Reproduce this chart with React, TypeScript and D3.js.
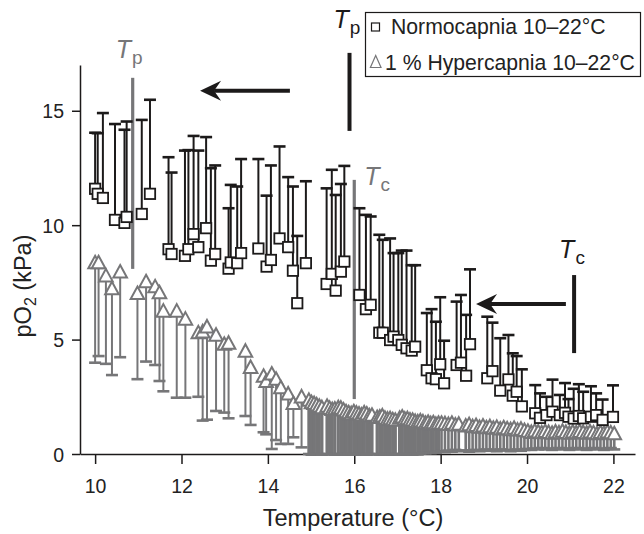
import React, { useRef, useEffect } from 'react';
import * as d3 from 'd3';

// Normocapnia: [temperature °C, mean pO2 kPa, mean + s.d.]
const normocapnia = [
  [10.00, 11.59, 14.04], [10.06, 11.37, 14.02], [10.18, 11.19, 14.90], [10.46, 10.23, 14.42],
  [10.68, 10.10, 14.17], [10.73, 10.36, 14.53], [11.08, 10.49, 14.60], [11.27, 11.37, 15.48],
  [11.70, 8.95, 12.97], [11.77, 8.74, 12.30], [12.08, 8.66, 13.26], [12.16, 8.95, 13.28],
  [12.28, 9.61, 13.90], [12.39, 9.04, 13.26], [12.57, 9.87, 13.85], [12.68, 8.45, 12.49],
  [12.78, 8.74, 12.61], [13.09, 8.10, 10.74], [13.14, 8.37, 11.76], [13.29, 8.34, 11.69],
  [13.38, 8.78, 12.89], [13.78, 8.98, 12.89], [13.97, 8.19, 11.29], [14.07, 8.48, 12.61],
  [14.27, 9.42, 13.44], [14.47, 9.04, 12.10], [14.58, 8.01, 11.69], [14.68, 6.59, 9.53],
  [14.88, 8.34, 11.92], [15.36, 7.43, 11.61], [15.48, 7.87, 12.42], [15.57, 7.14, 11.32],
  [15.69, 7.97, 11.80], [15.77, 8.41, 12.59], [16.12, 6.95, 10.74], [16.27, 6.33, 10.45],
  [16.38, 6.52, 10.38], [16.58, 5.30, 9.58], [16.66, 5.30, 9.36], [16.83, 4.98, 9.42],
  [16.91, 5.13, 8.78], [17.02, 4.98, 8.78], [17.10, 4.77, 8.89], [17.21, 4.62, 8.89],
  [17.33, 4.52, 8.25], [17.41, 4.69, 8.25], [17.68, 3.66, 6.16], [17.79, 3.31, 6.33],
  [17.89, 3.27, 5.78], [17.99, 3.92, 6.85], [18.08, 3.09, 4.95], [18.37, 3.89, 6.66],
  [18.47, 3.99, 6.95], [18.59, 3.42, 6.08], [18.68, 4.80, 8.07], [19.08, 3.31, 6.00],
  [19.20, 3.62, 5.74], [19.38, 2.77, 5.06], [19.57, 3.26, 5.20], [19.67, 2.55, 4.40],
  [19.76, 2.72, 4.28], [19.88, 2.08, 3.70], [20.19, 1.78, 3.01], [20.30, 1.58, 2.65],
  [20.45, 1.70, 2.50], [20.59, 1.85, 3.25], [20.76, 1.70, 2.58], [20.88, 1.80, 3.10],
  [20.96, 1.63, 2.40], [21.08, 1.55, 2.85], [21.20, 1.66, 3.05], [21.30, 1.56, 2.72],
  [21.48, 1.63, 2.96], [21.60, 1.70, 2.65], [21.75, 1.49, 2.38], [21.99, 1.62, 3.00],
];

// 1 % hypercapnia: [temperature °C, mean pO2 kPa, mean - s.d.]
const hypercapniaCool = [
  [10.00, 8.31, 3.99], [10.08, 8.31, 4.28], [10.25, 7.74, 3.94], [10.39, 7.18, 3.45],
  [10.58, 7.91, 4.23], [10.98, 6.97, 3.27], [11.18, 7.48, 4.04], [11.39, 7.26, 3.89],
  [11.49, 7.00, 3.19], [11.58, 6.20, 2.74], [11.89, 6.20, 2.46], [12.09, 5.85, 2.46],
  [12.39, 5.25, 2.50], [12.49, 5.29, 1.46], [12.59, 5.51, 1.50], [12.80, 5.15, 1.88],
  [12.99, 4.75, 1.81], [13.09, 4.80, 1.56], [13.48, 4.45, 1.66], [13.60, 3.74, 1.27],
  [13.90, 3.35, 0.95], [13.96, 3.12, 0.86], [14.09, 3.45, 0.22], [14.19, 3.22, 0.61],
  [14.30, 2.85, 0.44], [14.47, 2.58, 0.44], [14.59, 2.16, 0.73], [14.78, 2.45, 0.29],
];

const hypercapniaMid = [
  [14.95, 2.30, 0.00], [15.01, 2.20, -0.03], [15.07, 2.16, 0.00], [15.13, 2.10, -0.02],
  [15.19, 2.04, 0.00], [15.25, 1.98, -0.03], [15.37, 2.04, 0.00], [15.43, 1.95, -0.02],
  [15.49, 1.90, 0.00], [15.55, 1.92, -0.03], [15.63, 1.98, 0.00], [15.69, 1.96, -0.02],
  [15.75, 1.88, 0.00], [15.81, 1.80, -0.03], [15.87, 1.76, 0.00], [15.93, 1.72, -0.02],
  [15.99, 1.80, 0.00], [16.05, 1.74, -0.03], [16.11, 1.70, 0.00], [16.17, 1.66, -0.02],
  [16.23, 1.75, 0.00], [16.29, 1.70, -0.03], [16.35, 1.62, 0.00], [16.41, 1.65, -0.02],
  [16.53, 1.55, 0.00], [16.59, 1.57, -0.03], [16.65, 1.62, 0.00], [16.71, 1.52, -0.02],
  [16.77, 1.48, 0.00], [16.83, 1.50, -0.03], [16.89, 1.45, 0.00], [16.95, 1.43, -0.02],
  [17.05, 1.52, 0.00], [17.11, 1.57, -0.03], [17.17, 1.48, 0.00], [17.23, 1.50, -0.02],
  [17.29, 1.44, 0.00], [17.35, 1.43, -0.03], [17.41, 1.38, 0.00], [17.47, 1.36, -0.02],
  [17.53, 1.40, 0.02], [17.59, 1.36, 0.05], [17.65, 1.30, 0.03], [17.71, 1.34, 0.06],
  [17.77, 1.28, 0.04], [17.83, 1.32, 0.08], [17.89, 1.25, 0.05], [17.95, 1.30, 0.10],
];

const hypercapniaWarm = [
  [18.02, 1.30, 0.12], [18.10, 1.28, 0.08], [18.18, 1.25, 0.15], [18.26, 1.30, 0.10],
  [18.34, 1.22, 0.18], [18.42, 1.26, 0.12], [18.58, 1.18, 0.16], [18.66, 1.24, 0.10],
  [18.74, 1.15, 0.14], [18.82, 1.20, 0.18], [18.90, 1.12, 0.12], [18.98, 1.18, 0.16],
  [19.06, 1.10, 0.20], [19.14, 1.15, 0.14], [19.22, 1.08, 0.18], [19.30, 1.12, 0.12],
  [19.38, 1.05, 0.20], [19.46, 1.10, 0.15], [19.54, 1.06, 0.18], [19.62, 1.02, 0.12],
  [19.70, 1.08, 0.16], [19.78, 1.00, 0.20], [19.86, 1.04, 0.14], [19.94, 0.98, 0.18],
  [20.02, 0.95, 0.22], [20.10, 0.90, 0.18], [20.18, 0.96, 0.24], [20.26, 0.92, 0.20],
  [20.34, 0.88, 0.26], [20.42, 0.94, 0.20], [20.50, 0.90, 0.24], [20.58, 0.86, 0.18],
  [20.66, 0.92, 0.22], [20.74, 0.88, 0.26], [20.82, 0.95, 0.20], [20.90, 0.90, 0.24],
  [20.98, 0.86, 0.18], [21.06, 0.92, 0.22], [21.14, 0.88, 0.26], [21.22, 0.94, 0.20],
  [21.30, 0.90, 0.24], [21.38, 0.86, 0.18], [21.46, 0.92, 0.22], [21.54, 0.88, 0.26],
  [21.62, 0.84, 0.20], [21.70, 0.90, 0.24], [21.78, 0.86, 0.18], [21.86, 0.92, 0.22],
  [21.94, 0.88, 0.26], [22.02, 0.84, 0.20],
];

const xTicks = [10, 12, 14, 16, 18, 20, 22];
const yTicks = [0, 5, 10, 15];

// threshold temperatures (°C) and their marker extents (kPa)
const hyperTp = 10.87, hyperTpSpan = [16.44, 8.09];
const hyperTc = 16.0, hyperTcSpan = [11.98, 2.4];
const normTp = 15.89, normTpSpan = [17.53, 14.12];
const normTc = 21.09, normTcSpan = [7.82, 4.41];
const arrowTp = { from: 14.51, to: 12.43, at: 15.87 };
const arrowTc = { from: 20.9, to: 18.82, at: 6.56 };

const legendItems = ['Normocapnia 10–22°C', '1 % Hypercapnia 10–22°C'];

const FONT = 'Liberation Sans, Arial, Helvetica, sans-serif';
const BLACK = '#1c1a1a';
const GRAY = '#767678';

const App = () => {
  const ref = useRef<SVGSVGElement>(null);

  useEffect(() => {
    const width = 644, height = 534;
    const svg = d3.select(ref.current)
      .attr('width', width)
      .attr('height', height)
      .attr('viewBox', [0, 0, width, height].join(' '));
    svg.selectAll('*').remove();

    const x = d3.scaleLinear().domain([9.65, 22.5]).range([80, 635]);
    const y = d3.scaleLinear().domain([0, 17]).range([454, 65]);

    // axes
    const gx = svg.append('g')
      .attr('transform', `translate(0,${y(0)})`)
      .call(d3.axisBottom(x).tickValues(xTicks).tickSize(10).tickSizeOuter(0).tickPadding(15).tickFormat(d3.format('d')));
    const gy = svg.append('g')
      .attr('transform', `translate(${x.range()[0]},0)`)
      .call(d3.axisLeft(y).tickValues(yTicks).tickSize(8).tickSizeOuter(0).tickPadding(8).tickFormat(d3.format('d')));
    [gx, gy].forEach(g => {
      g.attr('font-family', FONT).attr('font-size', 19.5);
      g.selectAll('path, line').attr('stroke', BLACK).attr('stroke-width', 1.5);
      g.selectAll('text').attr('fill', '#222');
    });
    gy.selectAll('text').attr('dy', '0.36em');

    svg.append('text')
      .attr('x', 353).attr('y', 526)
      .attr('text-anchor', 'middle')
      .attr('font-family', FONT).attr('font-size', 23.5).attr('fill', '#222')
      .text('Temperature (°C)');
    const yt = svg.append('text')
      .attr('transform', 'translate(31,286) rotate(-90)')
      .attr('text-anchor', 'middle')
      .attr('font-family', FONT).attr('font-size', 23.5).attr('fill', '#222');
    yt.append('tspan').text('pO');
    yt.append('tspan').attr('font-size', 16).attr('dy', 5).text('2');
    yt.append('tspan').attr('dy', -5).text(' (kPa)');

    // hypercapnia: lower error bars, then triangles
    const hyperSets = [
      { rows: hypercapniaCool, bar: 2 },
      { rows: hypercapniaMid, bar: 3.2 },
      { rows: hypercapniaWarm, bar: 2.6 },
    ];
    const gh = svg.append('g');
    hyperSets.forEach(s => {
      gh.append('g').selectAll('line').data(s.rows).join('line')
        .attr('x1', d => x(d[0])).attr('x2', d => x(d[0]))
        .attr('y1', d => y(d[1]) + 4).attr('y2', d => y(d[2]))
        .attr('stroke', GRAY).attr('stroke-width', s.bar);
    });
    const hyper = [...hypercapniaCool, ...hypercapniaMid, ...hypercapniaWarm];
    gh.append('g').selectAll('line').data(hyper).join('line')
      .attr('x1', d => x(d[0]) - 6).attr('x2', d => x(d[0]) + 6)
      .attr('y1', d => y(d[2])).attr('y2', d => y(d[2]))
      .attr('stroke', GRAY).attr('stroke-width', 2.6);
    gh.append('g').selectAll('path').data(hyper).join('path')
      .attr('transform', d => `translate(${x(d[0])},${y(d[1])})`)
      .attr('d', 'M0,-8L6.8,4.5L-6.8,4.5Z')
      .attr('fill', '#fff').attr('stroke', GRAY).attr('stroke-width', 2)
      .attr('stroke-linejoin', 'miter');

    // hypercapnia threshold markers (grey)
    const grayMark = (t: number, span: number[]) =>
      svg.append('line')
        .attr('x1', x(t)).attr('x2', x(t)).attr('y1', y(span[0])).attr('y2', y(span[1]))
        .attr('stroke', GRAY).attr('stroke-width', 3.2);
    grayMark(hyperTp, hyperTpSpan);
    grayMark(hyperTc, hyperTcSpan);

    // normocapnia: upper error bars, then squares
    const gn = svg.append('g');
    gn.append('g').selectAll('line').data(normocapnia).join('line')
      .attr('x1', d => x(d[0])).attr('x2', d => x(d[0]))
      .attr('y1', d => y(d[1]) - 5).attr('y2', d => y(d[2]))
      .attr('stroke', BLACK).attr('stroke-width', 2);
    gn.append('g').selectAll('line').data(normocapnia).join('line')
      .attr('x1', d => x(d[0]) - 6).attr('x2', d => x(d[0]) + 6)
      .attr('y1', d => y(d[2])).attr('y2', d => y(d[2]))
      .attr('stroke', BLACK).attr('stroke-width', 2.6);
    gn.append('g').selectAll('rect').data(normocapnia).join('rect')
      .attr('x', d => x(d[0]) - 5.2).attr('y', d => y(d[1]) - 5.2)
      .attr('width', 10.4).attr('height', 10.4)
      .attr('fill', '#fff').attr('stroke', BLACK).attr('stroke-width', 1.8);

    // normocapnia threshold markers (black) and arrows
    const blackMark = (t: number, span: number[]) =>
      svg.append('line')
        .attr('x1', x(t)).attr('x2', x(t)).attr('y1', y(span[0])).attr('y2', y(span[1]))
        .attr('stroke', BLACK).attr('stroke-width', 4);
    blackMark(normTp, normTpSpan);
    blackMark(normTc, normTcSpan);

    const arrow = (a: { from: number; to: number; at: number }) => {
      const tip = x(a.to), yy = y(a.at);
      svg.append('line')
        .attr('x1', x(a.from)).attr('x2', tip + 14).attr('y1', yy).attr('y2', yy)
        .attr('stroke', BLACK).attr('stroke-width', 4);
      svg.append('path')
        .attr('d', `M${tip},${yy}L${tip + 21},${yy - 10}L${tip + 14},${yy}L${tip + 21},${yy + 10}Z`)
        .attr('fill', BLACK);
    };
    arrow(arrowTp);
    arrow(arrowTc);

    // T labels
    const tLabel = (px: number, py: number, sub: string, color: string) => {
      const t = svg.append('text')
        .attr('x', px).attr('y', py)
        .attr('font-family', FONT).attr('fill', color);
      t.append('tspan').attr('font-size', 25).attr('font-style', 'italic').text('T');
      t.append('tspan').attr('font-size', 19).attr('dy', 6).attr('dx', 1).text(sub);
    };
    tLabel(x(hyperTp) - 17, 58, 'p', GRAY);
    tLabel(x(hyperTc) + 10, 185, 'c', GRAY);
    tLabel(x(normTp) - 16, 28, 'p', BLACK);
    tLabel(x(normTc) - 15, 258, 'c', BLACK);

    // legend
    const lg = svg.append('g').attr('font-family', FONT);
    lg.append('rect')
      .attr('x', 365.5).attr('y', 12.5).attr('width', 275).attr('height', 64)
      .attr('fill', '#fff').attr('stroke', BLACK).attr('stroke-width', 1.2);
    lg.append('rect')
      .attr('x', 371.5).attr('y', 23).attr('width', 8).attr('height', 8)
      .attr('fill', '#fff').attr('stroke', BLACK).attr('stroke-width', 1.2);
    lg.append('path')
      .attr('d', 'M375.7,55.5L381,67.5L370.4,67.5Z')
      .attr('fill', '#fff').attr('stroke', GRAY).attr('stroke-width', 1.2);
    lg.append('text').attr('x', 391).attr('y', 33.5)
      .attr('font-size', 21.2).attr('fill', '#222').text(legendItems[0]);
    lg.append('text').attr('x', 385).attr('y', 70)
      .attr('font-size', 21.2).attr('fill', '#222').text(legendItems[1]);
  }, []);

  return (
    <svg ref={ref} style={{ position: 'absolute', left: 0, top: 0, background: '#fff' }}></svg>
  );
};

export default App;
